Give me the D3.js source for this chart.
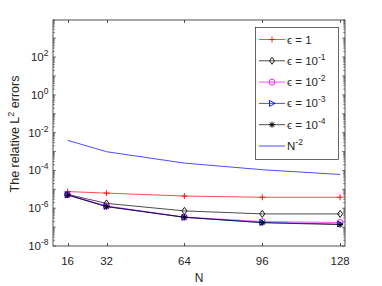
<!DOCTYPE html>
<html>
<head>
<meta charset="utf-8">
<script src="https://cdn.jsdelivr.net/npm/d3@7"></script>
<style>
body { margin: 0; background: #fff; }
text { font-family: "Liberation Sans", Arial, sans-serif; fill: #262626; }
</style>
</head>
<body>
<svg id="chart" width="382" height="286"></svg>
<script>
"use strict";

// data
var Ns = [16, 32, 64, 96, 128];
var eps1 = [7.6e-6, 6.3e-6, 4.4e-6, 3.8e-6, 3.8e-6];
var eps1m1 = [5.4e-6, 1.8e-6, 7.2e-7, 5.0e-7, 5.0e-7];
var eps1m2 = [5.2e-6, 1.3e-6, 3.4e-7, 1.95e-7, 1.75e-7];
var eps1m3 = [5.0e-6, 1.25e-6, 3.3e-7, 1.75e-7, 1.45e-7];
var eps1m4 = [5.0e-6, 1.2e-6, 3.3e-7, 1.7e-7, 1.35e-7];
var nm2 = [3.91e-3, 9.77e-4, 2.44e-4, 1.09e-4, 6.1e-5];
var yTickExps = [-8, -6, -4, -2, 0, 2];

var series = [
	{ name: "1", vals: eps1, color: "#ff0000", marker: "plus" },
	{ name: "-1", vals: eps1m1, color: "#000000", marker: "diamond" },
	{ name: "-2", vals: eps1m2, color: "#ff00ff", marker: "circle" },
	{ name: "-3", vals: eps1m3, color: "#0000ff", marker: "triangle" },
	{ name: "-4", vals: eps1m4, color: "#000000", marker: "star" },
	{ name: "N", vals: nm2, color: "#0000ff", marker: null }
];

var svg = d3.select("#chart");
var pLeft = 53, pRight = 345, pTop = 20, pBottom = 246;

var x = d3.scaleLinear().domain([10, 130]).range([pLeft, pRight]);
var y = d3.scaleLog().domain([1e-8, Math.pow(10, 3.96)]).range([pBottom, pTop]);

var axisColor = "#262626";

// box
svg.append("rect")
	.attr("x", pLeft).attr("y", pTop)
	.attr("width", pRight - pLeft).attr("height", pBottom - pTop)
	.attr("fill", "none").attr("stroke", axisColor).attr("stroke-width", 0.8);

// x ticks (bottom and top, pointing inwards)
Ns.forEach(function(n) {
	var px = Math.round(x(n)) + 0.5;
	svg.append("line").attr("x1", px).attr("x2", px).attr("y1", pBottom).attr("y2", pBottom - 3)
		.attr("stroke", axisColor).attr("stroke-width", 0.8);
	svg.append("line").attr("x1", px).attr("x2", px).attr("y1", pTop).attr("y2", pTop + 3)
		.attr("stroke", axisColor).attr("stroke-width", 0.8);
	svg.append("text").attr("x", x(n)).attr("y", 265)
		.attr("text-anchor", "middle").attr("font-size", 11.5).text(n);
});

// y ticks: majors at every decade, minors in between
for (var e = -8; e <= 3; e++) {
	for (var m = 1; m <= 9; m++) {
		var v = m * Math.pow(10, e);
		if (v > y.domain()[1]) continue;
		var py = y(v);
		var len = (m === 1) ? 3 : 1.8;
		svg.append("line").attr("x1", pLeft).attr("x2", pLeft + len).attr("y1", py).attr("y2", py)
			.attr("stroke", axisColor).attr("stroke-width", 0.6);
		svg.append("line").attr("x1", pRight).attr("x2", pRight - len).attr("y1", py).attr("y2", py)
			.attr("stroke", axisColor).attr("stroke-width", 0.6);
	}
}

yTickExps.forEach(function(k) {
	var t = svg.append("text").attr("x", 48.5).attr("y", y(Math.pow(10, k)) + 4)
		.attr("text-anchor", "end").attr("font-size", 11.5);
	t.append("tspan").text("10");
	t.append("tspan").attr("dy", -5).attr("font-size", 8.5).text(k);
});

// axis labels
svg.append("text").attr("x", 199).attr("y", 282)
	.attr("text-anchor", "middle").attr("font-size", 12).text("N");

var yl = svg.append("text")
	.attr("transform", "translate(18.5," + 134 + ") rotate(-90)")
	.attr("text-anchor", "middle").attr("font-size", 12.5);
yl.append("tspan").text("The relative L");
yl.append("tspan").attr("dy", -5).attr("font-size", 9).text("2");
yl.append("tspan").attr("dy", 5).text(" errors");

// markers
function drawMarker(g, type, cx, cy, color) {
	var s = 3;
	if (type === "plus") {
		g.append("path").attr("d", "M" + (cx - s) + "," + cy + "H" + (cx + s) + "M" + cx + "," + (cy - s) + "V" + (cy + s))
			.attr("stroke", color).attr("stroke-width", 0.9).attr("fill", "none");
	} else if (type === "diamond") {
		g.append("path").attr("d", "M" + cx + "," + (cy - 3.5) + "L" + (cx + 2.5) + "," + cy + "L" + cx + "," + (cy + 3.5) + "L" + (cx - 2.5) + "," + cy + "Z")
			.attr("stroke", color).attr("stroke-width", 0.9).attr("fill", "none");
	} else if (type === "circle") {
		g.append("circle").attr("cx", cx).attr("cy", cy).attr("r", 3)
			.attr("stroke", color).attr("stroke-width", 0.9).attr("fill", "none");
	} else if (type === "triangle") {
		g.append("path").attr("d", "M" + (cx + 3) + "," + cy + "L" + (cx - 2.5) + "," + (cy - 3) + "L" + (cx - 2.5) + "," + (cy + 3) + "Z")
			.attr("stroke", color).attr("stroke-width", 0.9).attr("fill", "none");
	} else if (type === "star") {
		var d = "";
		for (var a = 0; a < 4; a++) {
			var ang = a * Math.PI / 4;
			d += "M" + (cx - s * Math.cos(ang)) + "," + (cy - s * Math.sin(ang)) + "L" + (cx + s * Math.cos(ang)) + "," + (cy + s * Math.sin(ang));
		}
		g.append("path").attr("d", d).attr("stroke", color).attr("stroke-width", 1).attr("fill", "none");
	}
}

var line = d3.line()
	.x(function(d, i) { return x(Ns[i]); })
	.y(function(d) { return y(d); });

var plotG = svg.append("g");
series.forEach(function(s) {
	plotG.append("path").datum(s.vals).attr("d", line)
		.attr("fill", "none").attr("stroke", s.color).attr("stroke-width", 0.7);
	if (s.marker) {
		s.vals.forEach(function(v, i) {
			drawMarker(plotG, s.marker, x(Ns[i]), y(v), s.color);
		});
	}
});

// legend
var lg = svg.append("g");
lg.append("rect").attr("x", 255.5).attr("y", 27.5).attr("width", 83).attr("height", 132)
	.attr("fill", "#fff").attr("stroke", axisColor).attr("stroke-width", 0.7);

series.forEach(function(s, i) {
	var ly = 39.5 + i * 21.3;
	lg.append("line").attr("x1", 259).attr("x2", 285).attr("y1", ly).attr("y2", ly)
		.attr("stroke", s.color).attr("stroke-width", 0.7);
	if (s.marker) drawMarker(lg, s.marker, 272, ly, s.color);
	var t = lg.append("text").attr("x", 287).attr("y", ly + 4).attr("font-size", 11.5);
	if (s.name === "N") {
		t.append("tspan").text("N");
		t.append("tspan").attr("dy", -5).attr("font-size", 8.5).text("-2");
	} else if (s.name === "1") {
		t.append("tspan").text("\u03f5");
		t.append("tspan").text(" = 1");
	} else {
		t.append("tspan").text("\u03f5");
		t.append("tspan").text(" = 10");
		t.append("tspan").attr("dy", -5).attr("font-size", 8.5).text(s.name);
	}
});
</script>
</body>
</html>
